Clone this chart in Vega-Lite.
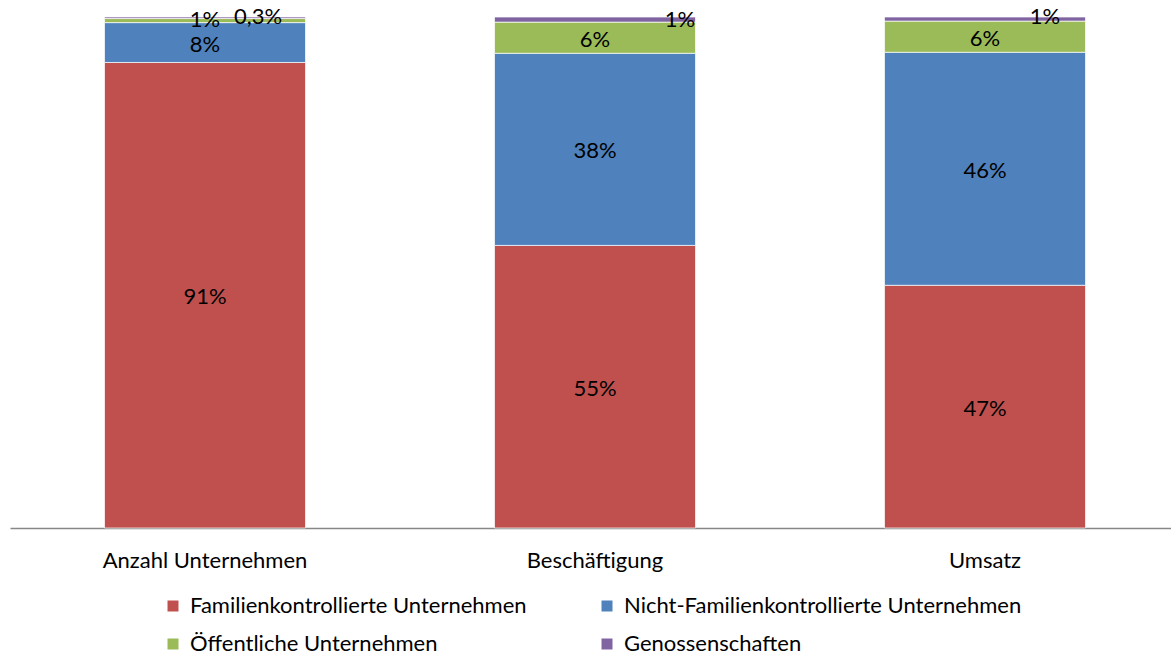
{
  "$schema": "https://vega.github.io/schema/vega-lite/v6.json",
  "width": 1161,
  "height": 511,
  "padding": {"left": 10, "top": 17, "right": 0, "bottom": 127},
  "autosize": {"type": "none"},
  "background": "white",
  "config": {
    "view": {"stroke": null},
    "font": "Lato",
    "text": {"font": "Lato"}
  },
  "data": {
    "values": [
      {"cat": "Anzahl Unternehmen", "typ": "Familienkontrollierte Unternehmen", "ord": 1, "value": 91.1, "label": "91%"},
      {"cat": "Anzahl Unternehmen", "typ": "Nicht-Familienkontrollierte Unternehmen", "ord": 2, "value": 7.8, "label": "8%"},
      {"cat": "Anzahl Unternehmen", "typ": "Öffentliche Unternehmen", "ord": 3, "value": 0.8, "label": "1%"},
      {"cat": "Anzahl Unternehmen", "typ": "Genossenschaften", "ord": 4, "value": 0.3, "label": "0,3%"},
      {"cat": "Beschäftigung", "typ": "Familienkontrollierte Unternehmen", "ord": 1, "value": 55.3, "label": "55%"},
      {"cat": "Beschäftigung", "typ": "Nicht-Familienkontrollierte Unternehmen", "ord": 2, "value": 37.6, "label": "38%"},
      {"cat": "Beschäftigung", "typ": "Öffentliche Unternehmen", "ord": 3, "value": 6.1, "label": "6%"},
      {"cat": "Beschäftigung", "typ": "Genossenschaften", "ord": 4, "value": 1.0, "label": "1%"},
      {"cat": "Umsatz", "typ": "Familienkontrollierte Unternehmen", "ord": 1, "value": 47.5, "label": "47%"},
      {"cat": "Umsatz", "typ": "Nicht-Familienkontrollierte Unternehmen", "ord": 2, "value": 45.6, "label": "46%"},
      {"cat": "Umsatz", "typ": "Öffentliche Unternehmen", "ord": 3, "value": 6.1, "label": "6%"},
      {"cat": "Umsatz", "typ": "Genossenschaften", "ord": 4, "value": 0.8, "label": "1%"}
    ]
  },
  "transform": [
    {"stack": "value", "groupby": ["cat"], "sort": [{"field": "ord", "order": "ascending"}], "as": ["v0", "v1"]},
    {"calculate": "(datum.v0 + datum.v1) / 2", "as": "mid"}
  ],
  "encoding": {
    "x": {
      "field": "cat",
      "type": "nominal",
      "sort": ["Anzahl Unternehmen", "Beschäftigung", "Umsatz"],
      "scale": {"paddingInner": 0.4846, "paddingOuter": 0.2308, "align": 0.525},
      "axis": {
        "title": null,
        "labelAngle": 0,
        "labelFont": "Lato",
        "labelFontSize": 22,
        "labelColor": "#000000",
        "labelPadding": 22,
        "labelLimit": 500,
        "ticks": false,
        "domainColor": "#878787",
        "domainWidth": 1.5
      }
    }
  },
  "layer": [
    {
      "mark": {"type": "bar", "stroke": "white", "strokeWidth": 0.7},
      "encoding": {
        "y": {"field": "v0", "type": "quantitative", "scale": {"domain": [0, 100]}, "axis": null},
        "y2": {"field": "v1"},
        "color": {
          "field": "typ",
          "type": "nominal",
          "scale": {
            "domain": ["Familienkontrollierte Unternehmen", "Nicht-Familienkontrollierte Unternehmen", "Öffentliche Unternehmen", "Genossenschaften"],
            "range": ["#C0504D", "#4F81BD", "#9BBB59", "#8064A2"]
          },
          "legend": {
            "title": null,
            "orient": "none",
            "legendX": 152,
            "legendY": 578,
            "direction": "horizontal",
            "columns": 2,
            "columnPadding": 69,
            "rowPadding": 16,
            "symbolType": "square",
            "symbolSize": 121,
            "symbolStrokeWidth": 0,
            "symbolOpacity": 1,
            "labelFont": "Lato",
            "labelFontSize": 22,
            "labelColor": "#000000",
            "labelOffset": 6,
            "labelLimit": 500
          }
        }
      }
    },
    {
      "transform": [{"filter": "datum.value > 2"}],
      "mark": {"type": "text", "font": "Lato", "fontSize": 22, "color": "#000000", "baseline": "middle", "dy": 2},
      "encoding": {
        "y": {"field": "mid", "type": "quantitative"},
        "text": {"field": "label"}
      }
    },
    {
      "transform": [{"filter": "datum.cat == 'Anzahl Unternehmen' && datum.ord == 3"}],
      "mark": {"type": "text", "font": "Lato", "fontSize": 22, "color": "#000000", "baseline": "middle", "dx": 0, "dy": -1},
      "encoding": {
        "y": {"field": "mid", "type": "quantitative"},
        "text": {"field": "label"}
      }
    },
    {
      "transform": [{"filter": "datum.cat == 'Anzahl Unternehmen' && datum.ord == 4"}],
      "mark": {"type": "text", "font": "Lato", "fontSize": 22, "color": "#000000", "baseline": "middle", "dx": 53, "dy": -1},
      "encoding": {
        "y": {"field": "mid", "type": "quantitative"},
        "text": {"field": "label"}
      }
    },
    {
      "transform": [{"filter": "datum.cat == 'Beschäftigung' && datum.ord == 4"}],
      "mark": {"type": "text", "font": "Lato", "fontSize": 22, "color": "#000000", "baseline": "middle", "dx": 85, "dy": 0},
      "encoding": {
        "y": {"field": "mid", "type": "quantitative"},
        "text": {"field": "label"}
      }
    },
    {
      "transform": [{"filter": "datum.cat == 'Umsatz' && datum.ord == 4"}],
      "mark": {"type": "text", "font": "Lato", "fontSize": 22, "color": "#000000", "baseline": "middle", "dx": 60, "dy": -2},
      "encoding": {
        "y": {"field": "mid", "type": "quantitative"},
        "text": {"field": "label"}
      }
    }
  ]
}
